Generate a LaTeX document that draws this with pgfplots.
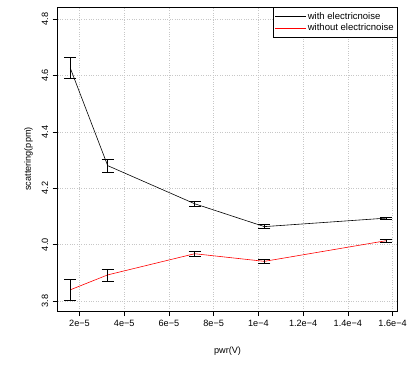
\documentclass[border=0pt]{standalone}
\usepackage{fontspec}
\setmainfont{Liberation Sans}
\usepackage{pgfplots}
\pgfplotsset{compat=1.18}
\usetikzlibrary{calc}
\begin{document}
\begin{tikzpicture}
\begin{axis}[
  scale only axis,
  width=342pt, height=306pt,
  xmin=1.022e-5, xmax=1.622e-4,
  ymin=3.765, ymax=4.842,
  axis line style={black, line width=0.6pt},
  tick align=outside,
  major tick length=5pt,
  tick style={black, line width=0.5pt},
  xtick pos=bottom, ytick pos=left,
  xtick={2e-5,4e-5,6e-5,8e-5,1e-4,1.2e-4,1.4e-4,1.6e-4},
  xticklabels={2e−5,4e−5,6e−5,8e−5,1e−4,1.2e−4,1.4e−4,1.6e−4},
  ytick={3.8,4.0,4.2,4.4,4.6,4.8},
  yticklabels={3.8,4.0,4.2,4.4,4.6,4.8},
  scaled x ticks=false,
  yticklabel style={rotate=90, anchor=south, yshift=1pt},
  ticklabel style={font=\fontsize{9.2}{11}\selectfont},
  xticklabel style={yshift=-1pt},
  label style={font=\fontsize{9.2}{11}\selectfont},
  xlabel={pwr(V)},
  ylabel={scattering(ppm)},
  xlabel style={yshift=-13pt},
  ylabel style={yshift=2pt},
  grid=major,
  major grid style={black!22, dotted, line width=0.5pt},
  legend style={at={(1,1)}, anchor=north east, draw=black, line width=0.6pt,
    font=\fontsize{9.6}{11}\selectfont, inner xsep=2pt, inner ysep=3.5pt,
    nodes={inner sep=1.5pt}, row sep=0.3pt, legend cell align=left},
  legend image code/.code={\path (0pt,0pt) -- (31pt,0pt); \draw[#1, line width=0.6pt] (6pt,0pt) -- (24pt,0pt);},
  error bars/error bar style={black, line width=0.6pt},
  error bars/error mark options={black, line width=0.6pt, mark size=6pt, rotate=90},
]
\addplot[black, line width=0.6pt, error bars/.cd, y dir=both, y explicit]
  table[x=x, y=y, y error=e] {
x y e
1.585e-5 4.626 0.037
3.26e-5 4.280 0.022
7.15e-5 4.145 0.010
1.027e-4 4.064 0.007
1.570e-4 4.094 0.004
};
\addlegendentry{with electricnoise}
\addplot[red, line width=0.6pt, error bars/.cd, y dir=both, y explicit]
  table[x=x, y=y, y error=e] {
x y e
1.585e-5 3.840 0.036
3.26e-5 3.893 0.021
7.15e-5 3.968 0.009
1.027e-4 3.941 0.007
1.570e-4 4.014 0.004
};
\addlegendentry{without electricnoise}
\end{axis}
\path ($(current axis.south west)+(-58pt,-57pt)$) rectangle ($(current axis.north east)+(10pt,7pt)$);
\end{tikzpicture}
\end{document}
